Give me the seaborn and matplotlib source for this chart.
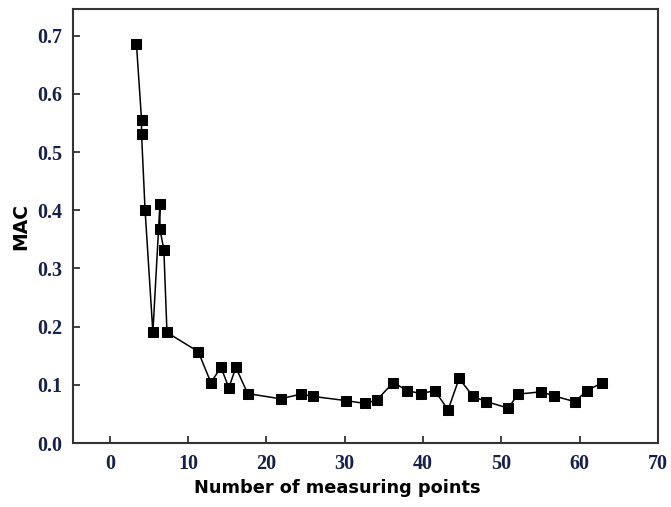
import matplotlib
matplotlib.use("Agg")
import matplotlib.pyplot as plt
import seaborn as sns
import pandas as pd

# values (in drawing order)
points = [3.4, 4.05, 4.05, 4.5, 5.5, 6.4, 6.4, 6.9, 7.3, 11.3, 12.9, 14.2, 15.2,
          16.1, 17.6, 21.8, 24.4, 26.0, 30.1, 32.6, 34.1, 36.2, 38.0, 39.7,
          41.5, 43.2, 44.6, 46.4, 48.1, 50.9, 52.1, 55.1, 56.7, 59.4, 60.9, 62.8]
mac = [0.686, 0.556, 0.532, 0.401, 0.190, 0.411, 0.368, 0.332, 0.190, 0.157,
       0.104, 0.130, 0.095, 0.130, 0.085, 0.076, 0.084, 0.080, 0.073, 0.068,
       0.074, 0.104, 0.090, 0.085, 0.090, 0.057, 0.111, 0.080, 0.071, 0.060,
       0.084, 0.088, 0.081, 0.071, 0.090, 0.103]
x_ticks = [0, 10, 20, 30, 40, 50, 60, 70]
y_ticks = [0.0, 0.1, 0.2, 0.3, 0.4, 0.5, 0.6, 0.7]

df = pd.DataFrame({"points": points, "mac": mac})

sns.set_style("ticks")
fig = plt.figure(figsize=(6.71, 5.07), dpi=100)
ax = fig.add_axes([0.1088, 0.1262, 0.8718, 0.856])

sns.lineplot(data=df, x="points", y="mac", sort=False, ax=ax, color="black",
             linewidth=1.1, marker="s", markersize=7.5, markeredgecolor="black",
             markerfacecolor="black", estimator=None)

ax.set_xlim(-4.7, 70)
ax.set_ylim(0.0, 0.746)
ax.set_xticks(x_ticks)
ax.set_yticks(y_ticks)
ax.set_xticklabels([str(t) for t in x_ticks])
ax.set_yticklabels([f"{t:.1f}" for t in y_ticks])

for s in ax.spines.values():
    s.set_linewidth(1.5)
    s.set_color("#333333")

ax.tick_params(direction="in", length=5, width=1.3, color="#333333", pad=8)
label_color = "#16204a"
for lab in ax.get_xticklabels() + ax.get_yticklabels():
    lab.set_family(["Liberation Serif", "DejaVu Serif"])
    lab.set_fontweight("bold")
    lab.set_fontsize(14.5)
    lab.set_color(label_color)

ax.set_xlabel("Number of measuring points", fontsize=12.8, fontweight="bold",
              family=["DejaVu Sans"], color="black")
ax.xaxis.set_label_coords(0.451, -0.083)
ax.set_ylabel("MAC", fontsize=13.5, fontweight="bold", family=["DejaVu Sans"],
              labelpad=5, color="black")

fig.savefig("out.png", dpi=100)
